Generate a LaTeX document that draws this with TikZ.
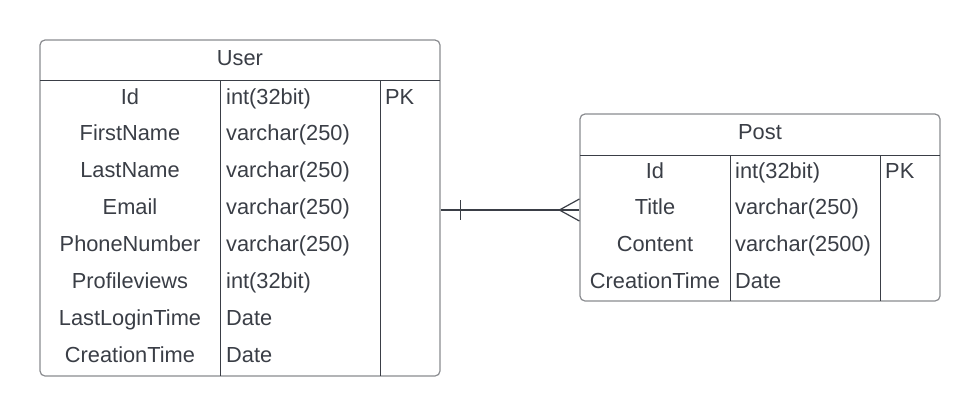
\documentclass[tikz,border=0pt]{standalone}
\usepackage{fontspec}
\setmainfont{Liberation Sans}
\usetikzlibrary{calc}
\definecolor{ink}{HTML}{3A3E46}
\definecolor{frame}{HTML}{8A8C90}
\tikzset{
  tbl/.style={draw=frame, line width=1.2pt, rounded corners=5pt, inner sep=0pt, fill=white},
  inner/.style={draw=ink, line width=1pt},
  ctext/.style={text=ink, font=\fontsize{21.8}{24}\selectfont, anchor=base, inner sep=0pt},
  ltext/.style={text=ink, font=\fontsize{21.8}{24}\selectfont, anchor=base west, inner sep=0pt},
  rel/.style={draw=ink, line width=1.2pt}
}
\begin{document}
\begin{tikzpicture}[x=1pt,y=-1pt]
\useasboundingbox (0,0) rectangle (980,416);
% User table
\node[tbl, minimum width=400pt, minimum height=336pt] (user) at (240,208) {};
\draw[inner] (40,80) -- (440,80);
\draw[inner] (220,80) -- (220,376);
\draw[inner] (380,80) -- (380,376);
\node[ctext] (ut) at (240,65) {User};
\foreach \n/\f/\t/\k [count=\i from 0] in {Id/int(32bit)/PK/a, FirstName/varchar(250)//b, LastName/varchar(250)//c, Email/varchar(250)//d, PhoneNumber/varchar(250)//e, Profileviews/int(32bit)//f, LastLoginTime/Date//g, CreationTime/Date//h}{
  \pgfmathsetmacro{\yy}{104+\i*36.9}
  \node[ctext] (un\k) at (130,\yy) {\n};
  \node[ltext] (ud\k) at (226,\yy) {\f};
  \node[ltext] (uk\k) at (385,\yy) {\t};
}
% Post table
\node[tbl, minimum width=360pt, minimum height=187pt] (post) at (760,207.5) {};
\draw[inner] (580,155) -- (940,155);
\draw[inner] (730,155) -- (730,301);
\draw[inner] (880,155) -- (880,301);
\node[ctext] (pt) at (760,139) {Post};
\foreach \n/\f/\t/\k [count=\i from 0] in {Id/int(32bit)/PK/a, Title/varchar(250)//b, Content/varchar(2500)//c, CreationTime/Date//d}{
  \pgfmathsetmacro{\yy}{178+\i*36.7}
  \node[ctext] (pn\k) at (655,\yy) {\n};
  \node[ltext] (pd\k) at (735,\yy) {\f};
  \node[ltext] (pk\k) at (885,\yy) {\t};
}
% Relationship
\coordinate (ra) at ([yshift=-2pt]user.east);
\coordinate (rb) at ([yshift=-2.5pt]post.west);
\draw[rel] (ra) -- (rb);
\draw[rel] ($(ra)+(20,-10)$) -- ($(ra)+(20,10)$);
\draw[rel] ($(rb)+(0,-11)$) -- ($(rb)+(-20,0)$) -- ($(rb)+(0,11)$);
\end{tikzpicture}
\end{document}
